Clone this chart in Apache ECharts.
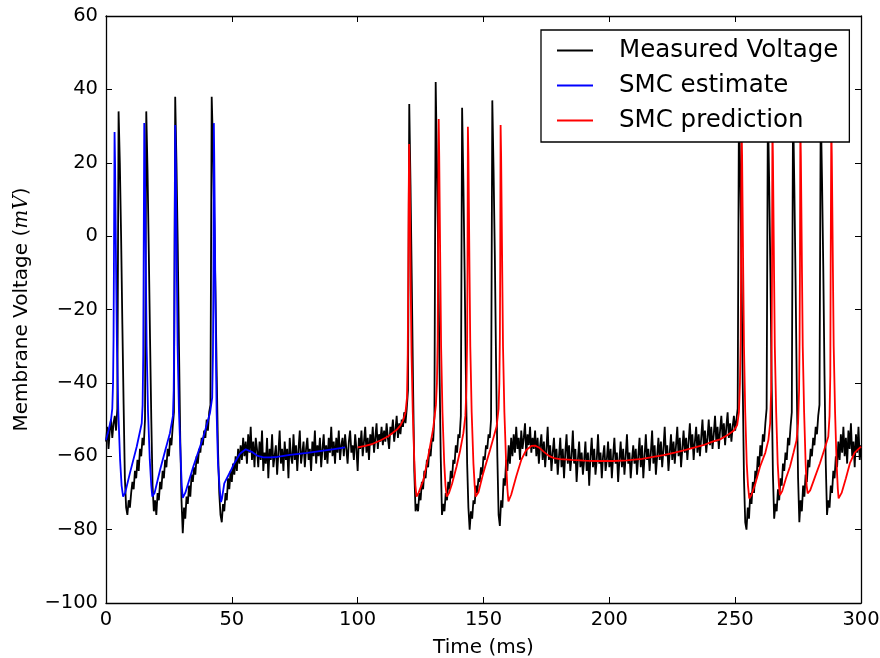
<!DOCTYPE html>
<html>
<head>
<meta charset="utf-8">
<script src="https://cdn.jsdelivr.net/npm/echarts@6/dist/echarts.min.js"></script>
<style>
html, body { margin: 0; padding: 0; background: #fff; }
#chart { width: 880px; height: 658px; }
</style>
</head>
<body>
<div id="chart"></div>
<script>
// measured trace, one sample every 0.5 ms from 0 to 300 ms
var measuredStep = 0.5;
var measuredVolt = [
  -56, -52, -58, -53, -50, -55, -51, -49, -53, -47, 34, 20, 0, -24, -46, -66, -74, -76, -72, -74,
  -70, -67, -69, -64, -66, -61, -64, -58, -60, -55, -57, -50, 34, 18, -4, -28, -50, -68, -75, -72,
  -76, -70, -72, -67, -69, -64, -66, -61, -63, -58, -60, -55, -57, -52, -48, 38, 20, -2, -30, -55,
  -72, -81, -74, -77, -71, -73, -68, -71, -65, -67, -63, -65, -60, -62, -58, -59, -55, -57, -53, -55,
  -50, -53, -48, -46, 38, 25, 5, -15, -38, -58, -70, -76, -78, -73, -75, -70, -72, -66, -69, -64,
  -67, -62, -65, -60, -64, -58, -62, -57, -61, -55, -60, -56, -62, -54, -59, -52, -61, -56, -63, -55,
  -58, -63, -56, -61, -53, -64, -59, -62, -55, -66, -58, -61, -54, -63, -60, -57, -65, -59, -53, -62,
  -58, -64, -56, -61, -58, -66, -55, -60, -62, -54, -61, -57, -64, -58, -53, -62, -59, -56, -63, -58,
  -55, -61, -58, -64, -56, -60, -53, -62, -57, -60, -55, -63, -58, -54, -61, -57, -62, -55, -59, -52,
  -60, -56, -62, -55, -59, -53, -61, -57, -55, -60, -54, -58, -62, -56, -53, -59, -57, -61, -54, -58,
  -64, -55, -58, -53, -60, -56, -52, -59, -55, -61, -54, -57, -52, -59, -55, -51, -58, -54, -56, -52,
  -57, -53, -56, -51, -55, -58, -52, -54, -50, -56, -53, -49, -55, -51, -54, -50, -52, -48, -51, -47,
  -42, 36, 14, -12, -40, -64, -75, -73, -75, -70, -72, -67, -69, -64, -66, -61, -63, -58, -60, -55,
  -56, -49, 42, 20, -5, -35, -60, -76, -73, -75, -70, -72, -67, -69, -64, -66, -61, -62, -57, -59,
  -54, -55, -49, 35, 15, -10, -38, -62, -74, -80, -75, -77, -72, -73, -68, -70, -66, -67, -63, -65,
  -60, -61, -57, -58, -54, -55, -50, 37, 18, -5, -35, -60, -76, -79, -72, -74, -66, -68, -61, -64,
  -57, -62, -55, -60, -54, -59, -52, -58, -55, -61, -53, -58, -55, -51, -60, -54, -57, -52, -59, -55,
  -58, -53, -60, -55, -62, -57, -54, -61, -56, -63, -58, -52, -61, -57, -64, -59, -55, -62, -58, -65,
  -60, -55, -63, -58, -66, -59, -54, -62, -57, -64, -60, -53, -62, -58, -67, -61, -56, -63, -59, -65,
  -61, -56, -64, -59, -68, -60, -55, -63, -58, -65, -61, -54, -62, -59, -66, -60, -57, -64, -61, -56,
  -63, -58, -66, -60, -55, -62, -59, -67, -61, -56, -63, -58, -65, -60, -54, -62, -59, -66, -61, -57,
  -62, -58, -65, -60, -55, -63, -57, -66, -60, -54, -61, -58, -64, -59, -53, -62, -57, -65, -60, -55,
  -61, -56, -63, -58, -52, -60, -57, -64, -59, -54, -61, -56, -62, -57, -52, -60, -55, -63, -58, -53,
  -59, -55, -61, -56, -51, -58, -54, -61, -56, -52, -59, -54, -60, -55, -50, -57, -53, -59, -55, -50,
  -57, -52, -58, -54, -49, -56, -52, -58, -53, -49, -55, -51, -57, -52, -48, -55, -51, -56, -52, -49,
  -53, -50, -47, 36, 18, -8, -40, -66, -78, -80, -74, -77, -70, -73, -67, -70, -64, -66, -60, -63,
  -57, -60, -54, -56, -51, -47, 36, 15, -10, -40, -65, -77, -73, -75, -69, -72, -66, -68, -62, -64,
  -59, -61, -55, -57, -52, -48, 36, 14, -12, -42, -66, -78, -72, -75, -68, -71, -65, -67, -61, -63,
  -58, -60, -55, -57, -52, -54, -49, -46, 36, 16, -8, -38, -62, -76, -72, -74, -68, -70, -64, -66,
  -60, -63, -56, -61, -54, -59, -52, -60, -55, -62, -53, -58, -51, -60, -56, -63, -54, -59, -52, -61, -57
];

// SMC estimate (blue), time in ms and voltage in mV
var estimateTime = [
  0, 1, 2, 2.5, 2.8, 3.0, 3.15, 3.4, 3.6, 3.8, 4.05, 4.35, 4.9, 5.6, 6.2, 6.8,
  7.6, 9.5, 12.2, 14.2, 14.55, 14.8, 14.95, 15.2, 15.4, 15.6, 15.85, 16.15, 16.7, 17.4, 18.0, 18.4,
  19.3, 21.5, 23.5, 25.4, 26.6, 26.9, 27.1, 27.25, 27.5, 27.7, 27.9, 28.15, 28.45, 29.0, 29.7, 30.1, 30.5,
  31.5, 34.7, 38.7, 41.3, 42.2, 42.5, 42.7, 42.85, 43.0, 43.2, 43.4, 43.65, 43.95, 44.5, 45.2, 45.7, 46.1,
  47.0, 49.3, 51.0, 53.2, 55.5, 57.9, 60.0, 62.5, 65.2, 68.0, 73.1, 80, 85, 90, 95, 100
];
var estimateVolt = [
  -55.6, -53, -50, -47, -40, -28, -8, 28.4, 20, 6, -12, -30, -48, -61, -68, -71,
  -70, -64.6, -57.4, -51, -46, -32, -10, 30.8, 22, 8, -10, -30, -48, -61, -68, -71,
  -70, -63.7, -58.5, -53.7, -49, -42, -28, -8, 30.3, 22, 8, -10, -30, -48, -61, -68, -71.3,
  -70, -62.8, -54.7, -48.3, -44, -32, -10, 30.8, 22, 8, -10, -30, -48, -62, -69, -72.5,
  -71.5, -67.4, -64.3, -61.9, -59.3, -58.1, -58.8, -59.8, -60.3, -60.3, -60.2, -59.6, -59.1, -58.6, -58.1, -57.6
];

// SMC prediction (red)
var predictionTime = [
  100, 103, 106, 109, 112, 114, 115.5, 117, 118.1, 119, 119.6, 119.9, 120.1, 120.25, 120.45, 120.65, 120.85, 121.1, 121.4, 121.9, 122.5, 122.95, 123.4,
  124.2, 126.1, 127.5, 128.7, 130.0, 131.1, 131.5, 131.8, 131.95, 132.2, 132.4, 132.6, 132.85, 133.15, 133.7, 134.4, 134.9, 135.4,
  136.3, 137.5, 139.3, 140.7, 142.0, 142.8, 143.2, 143.5, 143.65, 143.8, 144.0, 144.2, 144.45, 144.75, 145.3, 146.0, 146.5, 146.9,
  148.0, 149.9, 152.6, 155.2, 156.0, 156.3, 156.5, 156.65, 156.8, 157.0, 157.2, 157.45, 157.75, 158.3, 159.0, 159.5, 159.9,
  161, 163, 165, 167, 169, 170.5, 172, 174, 176, 178, 180.4, 185, 190, 195, 201.6, 207, 213, 218, 221.5, 226, 230, 234, 237.3,
  241, 244, 247, 249.5, 250.8, 251.5, 251.9, 252.2, 252.35, 252.55, 252.75, 252.95, 253.2, 253.5, 254.0, 254.6, 255.1, 255.6,
  256.5, 258.0, 259.9, 262.0, 263.2, 263.9, 264.3, 264.5, 264.65, 264.8, 265.0, 265.2, 265.45, 265.75, 266.3, 266.9, 267.4, 267.8,
  268.7, 270.2, 271.8, 273.2, 274.4, 275.0, 275.4, 275.6, 275.75, 275.9, 276.1, 276.3, 276.55, 276.85, 277.4, 278.0, 278.4, 278.8,
  279.8, 281.8, 283.7, 285.5, 287.0, 287.5, 287.8, 287.95, 288.2, 288.4, 288.6, 288.85, 289.15, 289.7, 290.3, 290.8, 291.1,
  292.3, 294.0, 295.6, 297.5, 300
];
var predictionVolt = [
  -57.6, -57.2, -56.6, -55.7, -54.6, -53.6, -52.8, -51.6, -50.1, -48, -44, -32, -12, 8, 25.1, 18, 5, -15, -32, -48, -61, -68, -71,
  -70, -66.5, -62, -57.5, -52.5, -46, -40, -28, -8, 31.9, 22, 8, -10, -30, -48, -62, -68, -71,
  -70, -67.5, -62.8, -58.5, -53.7, -49, -42, -28, -8, 29.8, 22, 8, -10, -30, -48, -62, -68, -71,
  -69.8, -64.6, -58.3, -51.9, -47, -40, -28, -8, 30.3, 22, 8, -10, -30, -48, -62, -69, -72.3,
  -70.5, -65.5, -61, -58.3, -57.2, -57.1, -57.6, -58.8, -59.9, -60.5, -60.8, -61, -61.2, -61.3, -61.3, -61.1, -60.7, -60.1, -59.7, -59, -58.3, -57.6, -57,
  -56, -55.4, -54.2, -53, -51.5, -48, -40, -28, -8, 30, 22, 8, -10, -30, -48, -62, -68, -71.5,
  -70.5, -67.5, -62.8, -59, -55.6, -51, -42, -28, -8, 30, 22, 8, -10, -30, -48, -62, -68, -70.6,
  -69.5, -66, -62.8, -59, -55.6, -51, -42, -28, -8, 30, 22, 8, -10, -30, -48, -62, -68, -70.1,
  -69.3, -65.5, -61.9, -58, -54.7, -49, -38, -8, 30, 22, 8, -10, -30, -48, -62, -69, -71.5,
  -70, -66, -61.9, -59, -57.4
];

var legendNames = ['Measured Voltage', 'SMC estimate', 'SMC prediction'];
var timeTicks = { min: 0, max: 300, step: 50 };
var voltTicks = { min: -100, max: 60, step: 20 };

var FONT = 'DejaVu Sans';

function pairs(xs, ys) {
  var out = [];
  for (var i = 0; i < xs.length; i++) out.push([xs[i], ys[i]]);
  return out;
}

var measuredData = [];
for (var i = 0; i < measuredVolt.length; i++) {
  measuredData.push([i * measuredStep, measuredVolt[i]]);
}

function minusSign(v) {
  return String(v).replace('-', '\u2212');
}

var frameLine = { show: true, onZero: false, lineStyle: { color: '#000', width: 1.3 } };
var innerTick = { show: true, inside: true, length: 6, lineStyle: { color: '#000', width: 1 } };

var chart = echarts.init(document.getElementById('chart'), null, { renderer: 'canvas' });
chart.setOption({
  animation: false,
  backgroundColor: '#fff',
  // keep the plot box fixed, labels may sit outside it
  grid: { left: 106, right: 19, top: 16, bottom: 55, containLabel: false, outerBoundsMode: 'none' },
  legend: {
    orient: 'vertical',
    left: 541,
    top: 30,
    padding: [8, 11, 9, 16],
    itemGap: 10,
    itemWidth: 36,
    itemHeight: 2,
    icon: 'rect',
    selectedMode: false,
    backgroundColor: '#fff',
    borderColor: '#000',
    borderWidth: 1.3,
    borderRadius: 0,
    textStyle: { fontFamily: FONT, fontSize: 24.5, color: '#000', lineHeight: 25, padding: [0, 0, 0, 21] },
    data: legendNames
  },
  xAxis: [{
    type: 'value',
    position: 'bottom',
    min: timeTicks.min, max: timeTicks.max, interval: timeTicks.step,
    axisLine: frameLine,
    axisTick: innerTick,
    splitLine: { show: false },
    axisLabel: { color: '#000', fontFamily: FONT, fontSize: 19.5, margin: 7 },
    name: 'Time (ms)',
    nameLocation: 'middle',
    nameGap: 35,
    nameTextStyle: { color: '#000', fontFamily: FONT, fontSize: 20 }
  }, {
    type: 'value',
    position: 'top',
    min: timeTicks.min, max: timeTicks.max, interval: timeTicks.step,
    axisLine: frameLine,
    axisTick: innerTick,
    splitLine: { show: false },
    axisLabel: { show: false }
  }],
  yAxis: [{
    type: 'value',
    position: 'left',
    min: voltTicks.min, max: voltTicks.max, interval: voltTicks.step,
    axisLine: frameLine,
    axisTick: innerTick,
    splitLine: { show: false },
    axisLabel: { color: '#000', fontFamily: FONT, fontSize: 19.5, margin: 8, formatter: minusSign },
    name: '{n|Membrane Voltage (}{i|mV}{n|)}',
    nameLocation: 'middle',
    nameRotate: 90,
    nameGap: 74,
    nameTextStyle: {
      rich: {
        n: { fontFamily: FONT, fontSize: 20, color: '#000' },
        i: { fontFamily: 'DejaVu Serif', fontStyle: 'italic', fontSize: 20, color: '#000' }
      }
    }
  }, {
    type: 'value',
    position: 'right',
    min: voltTicks.min, max: voltTicks.max, interval: voltTicks.step,
    axisLine: frameLine,
    axisTick: innerTick,
    splitLine: { show: false },
    axisLabel: { show: false }
  }],
  series: [{
    name: legendNames[0],
    type: 'line',
    data: measuredData,
    symbol: 'none',
    z: 2,
    itemStyle: { color: '#000' },
    lineStyle: { color: '#000', width: 1.8 }
  }, {
    name: legendNames[1],
    type: 'line',
    data: pairs(estimateTime, estimateVolt),
    symbol: 'none',
    z: 3,
    itemStyle: { color: '#0000ff' },
    lineStyle: { color: '#0000ff', width: 1.8 }
  }, {
    name: legendNames[2],
    type: 'line',
    data: pairs(predictionTime, predictionVolt),
    symbol: 'none',
    z: 3,
    itemStyle: { color: '#ff0000' },
    lineStyle: { color: '#ff0000', width: 1.8 }
  }]
});
</script>
</body>
</html>
